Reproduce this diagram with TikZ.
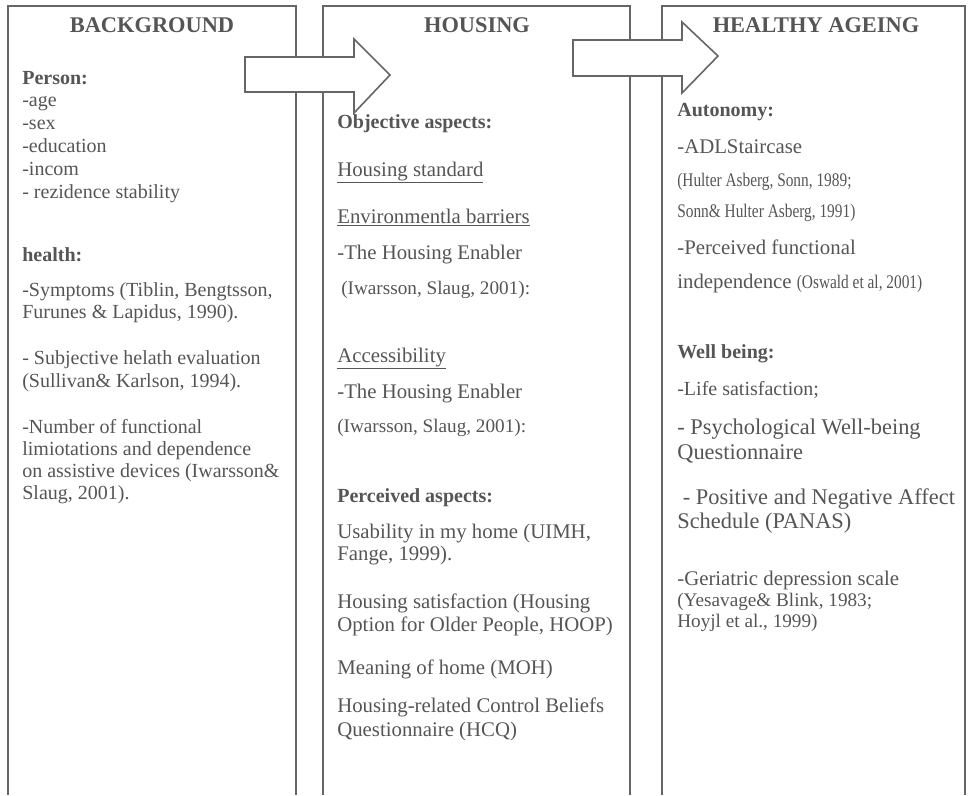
\documentclass[tikz,border=0pt]{standalone}
\usepackage{fontspec}
\setmainfont{Liberation Serif}
\newfontfamily\citefont[FakeStretch=0.8]{Liberation Serif}
\definecolor{inkgray}{HTML}{555555}
\definecolor{rulegray}{HTML}{666666}
\tikzset{
  colbox/.style={draw=rulegray, line width=1pt},
  bigarrow/.style={draw=rulegray, fill=white, line width=1pt, line join=miter},
  txt/.style={anchor=base west, inner sep=0pt, text=inkgray, font=\fontsize{12.5}{15}\selectfont},
  midtxt/.style={txt, font=\fontsize{13}{15}\selectfont},
  citetxt/.style={txt, font=\fontsize{12}{14}\citefont},
  bigtxt/.style={txt, font=\fontsize{14}{16}\selectfont},
  head/.style={anchor=base, inner sep=0pt, text=inkgray, font=\fontsize{14}{16}\selectfont\bfseries},
  subhead/.style={txt, font=\fontsize{12.5}{15}\selectfont\bfseries}
}
\begin{document}
\begin{tikzpicture}[x=0.625pt, y=-0.625pt]
\useasboundingbox (0,0) rectangle (972,795);
% three open columns
\draw[colbox] (8,795) -- (8,6) -- (296,6) -- (296,795);
\draw[colbox] (323,795) -- (323,6) -- (630,6) -- (630,795);
\draw[colbox] (662,795) -- (662,6) -- (965,6) -- (965,795);
% block arrows between the columns
\draw[bigarrow] (245,57) -- (354,57) -- (354,39) -- (390,75) -- (354,113) -- (354,92) -- (245,92) -- cycle;
\draw[bigarrow] (573,40) -- (682,40) -- (682,22) -- (718,56) -- (682,93) -- (682,76) -- (573,76) -- cycle;
% background
\node[head] (bg) at (152,32) {BACKGROUND};
\node[subhead] (bgperson) at (22,84) {Person:};
\node[txt] (bgage) at (22,106) {-age};
\node[txt] (bgsex) at (22,129) {-sex};
\node[txt] (bgedu) at (22,152) {-education};
\node[txt] (bginc) at (22,175) {-incom};
\node[txt] (bgres) at (22,198) {- rezidence stability};
\node[subhead] (bghealth) at (22,261) {health:};
\node[txt] (bgsym) at (22,296) {-Symptoms (Tiblin, Bengtsson,};
\node[txt] (bgsymb) at (22,318) {Furunes \& Lapidus, 1990).};
\node[txt] (bgsub) at (22,364) {- Subjective helath evaluation};
\node[txt] (bgsubb) at (22,387) {(Sullivan\& Karlson, 1994).};
\node[txt] (bgnum) at (22,433) {-Number of functional};
\node[txt] (bgnumb) at (22,455) {limiotations and dependence};
\node[txt] (bgnumc) at (22,477) {on assistive devices (Iwarsson\&};
\node[txt] (bgnumd) at (22,499) {Slaug, 2001).};
% housing
\node[head] (hs) at (477,32) {HOUSING};
\node[subhead] (hsobj) at (337,128) {Objective aspects:};
\node[midtxt] (hsstd) at (337,176) {\underline{Housing standard}};
\node[midtxt] (hsenv) at (337,223) {\underline{Environmentla barriers}};
\node[midtxt] (hsena) at (337,259) {-The Housing Enabler};
\node[txt, font=\fontsize{12}{14}\selectfont] (hsenacite) at (341,294) {(Iwarsson, Slaug, 2001):};
\node[midtxt] (hsacc) at (337,362) {\underline{Accessibility}};
\node[midtxt] (hsaccena) at (337,398) {-The Housing Enabler};
\node[txt, font=\fontsize{12}{14}\selectfont] (hsacccite) at (337,432) {(Iwarsson, Slaug, 2001):};
\node[subhead] (hsper) at (337,502) {Perceived aspects:};
\node[midtxt] (hsuse) at (337,538) {Usability in my home (UIMH,};
\node[midtxt] (hsuseb) at (337,560) {Fange, 1999).};
\node[midtxt] (hssat) at (337,608) {Housing satisfaction (Housing};
\node[midtxt] (hssatb) at (337,631) {Option for Older People, HOOP)};
\node[midtxt] (hsmoh) at (337,674) {Meaning of home (MOH)};
\node[midtxt] (hshcq) at (337,712) {Housing-related Control Beliefs};
\node[midtxt] (hshcqb) at (337,736) {Questionnaire (HCQ)};
% healthy ageing
\node[head] (ha) at (816,32) {HEALTHY AGEING};
\node[subhead] (haaut) at (677,116) {Autonomy:};
\node[midtxt] (haadl) at (677,153) {-ADLStaircase};
\node[citetxt] (haadlb) at (677,186) {(Hulter Asberg, Sonn, 1989;};
\node[citetxt] (haadlc) at (677,217) {Sonn\& Hulter Asberg, 1991)};
\node[midtxt] (hapfi) at (677,254) {-Perceived functional};
\node[midtxt] (hapfib) at (677,288) {independence {\fontsize{12}{14}\citefont(Oswald et al, 2001)}};
\node[subhead] (hawell) at (677,358) {Well being:};
\node[txt] (halife) at (677,395) {-Life satisfaction;};
\node[bigtxt] (hapsy) at (677,434) {- Psychological Well-being};
\node[bigtxt] (hapsyb) at (677,459) {Questionnaire};
\node[bigtxt] (hapan) at (677,504) {\ - Positive and Negative Affect};
\node[bigtxt] (hapanb) at (677,528) {Schedule (PANAS)};
\node[midtxt] (hagds) at (677,585) {-Geriatric depression scale};
\node[txt, font=\fontsize{12}{14}\selectfont] (hagdsb) at (677,606) {(Yesavage\& Blink, 1983;};
\node[txt, font=\fontsize{12}{14}\selectfont] (hagdsc) at (677,627) {Hoyjl et al., 1999)};
\end{tikzpicture}
\end{document}
